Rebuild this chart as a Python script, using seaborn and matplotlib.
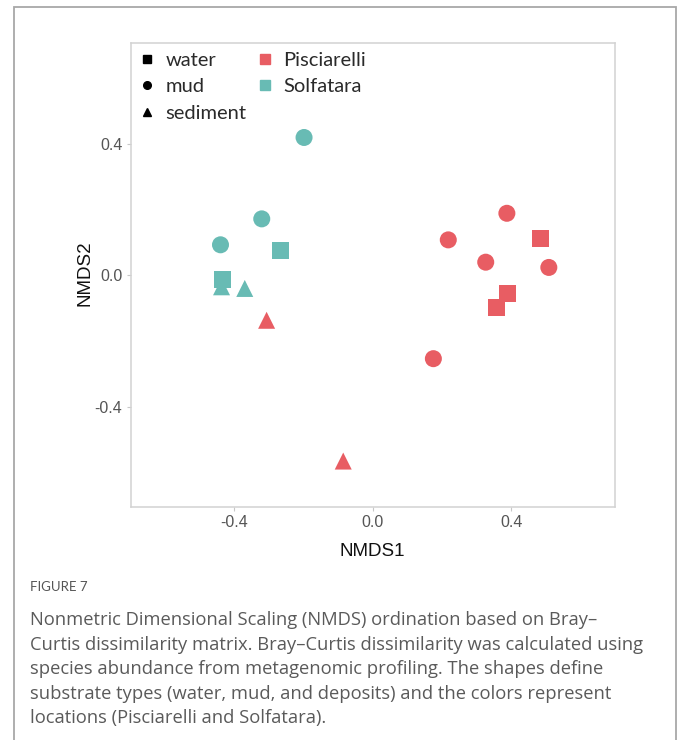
import matplotlib
matplotlib.use("Agg")
import matplotlib.pyplot as plt
import seaborn as sns
import pandas as pd
from matplotlib.lines import Line2D
from matplotlib.patches import Rectangle

# ---- data ----
location = ["Solfatara"] * 7 + ["Pisciarelli"] * 10
substrate = ["mud", "mud", "mud", "water", "sediment", "water", "sediment",
             "sediment", "sediment", "mud", "mud", "mud", "mud", "mud",
             "water", "water", "water"]
nmds1 = [-0.198, -0.320, -0.439, -0.265, -0.436, -0.434, -0.369,
         -0.306, -0.085, 0.387, 0.218, 0.326, 0.508, 0.175,
         0.485, 0.388, 0.358]
nmds2 = [0.420, 0.172, 0.093, 0.076, -0.035, -0.013, -0.040,
         -0.137, -0.566, 0.189, 0.108, 0.040, 0.024, -0.254,
         0.113, -0.055, -0.099]

substrate_levels = ["water", "mud", "sediment"]
location_levels = ["Pisciarelli", "Solfatara"]
tick_vals = [-0.4, 0.0, 0.4]
tick_labels = ["-0.4", "0.0", "0.4"]

caption_title = "FIGURE 7"
caption_lines = [
    "Nonmetric Dimensional Scaling (NMDS) ordination based on Bray\u2013",
    "Curtis dissimilarity matrix. Bray\u2013Curtis dissimilarity was calculated using",
    "species abundance from metagenomic profiling. The shapes define",
    "substrate types (water, mud, and deposits) and the colors represent",
    "locations (Pisciarelli and Solfatara).",
]

df = pd.DataFrame({"NMDS1": nmds1, "NMDS2": nmds2,
                   "substrate": substrate, "location": location})

# ---- styling ----
RED = "#e85d63"
TEAL = "#68bbb4"
palette = {"Pisciarelli": RED, "Solfatara": TEAL}
markers = {"water": "s", "mud": "o", "sediment": "^"}

sns.set_style("white")
plt.rcParams["font.family"] = ["Liberation Sans", "DejaVu Sans"]

W, H = 681, 740
fig = plt.figure(figsize=(W / 100, H / 100), dpi=100)

# outer frame of the figure panel
fig.add_artist(Rectangle((14 / W, -0.05), (676 - 14) / W, 1.05 - 7 / H,
                         transform=fig.transFigure, fill=False,
                         edgecolor="#a8a8a8", linewidth=1.3))

ax = fig.add_axes([130.7 / W, 1 - 507 / H, (614.7 - 130.7) / W, (507 - 43.3) / H])

sns.scatterplot(data=df, x="NMDS1", y="NMDS2", hue="location", style="substrate",
                palette=palette, markers=markers, hue_order=location_levels,
                style_order=substrate_levels, s=150, linewidth=0, alpha=1,
                legend=False, ax=ax)

ax.set_xlim(-0.698, 0.698)
ax.set_ylim(-0.706, 0.707)
ax.set_xticks(tick_vals)
ax.set_xticklabels(tick_labels)
ax.set_yticks(tick_vals)
ax.set_yticklabels(tick_labels)
ax.set_xlabel("")
ax.set_ylabel("")
for sp in ax.spines.values():
    sp.set_visible(True)
    sp.set_color("#d2d2d2")
    sp.set_linewidth(1.1)
ax.tick_params(axis="both", which="major", length=3, width=0.8, color="#c8c8c8",
               labelsize=11.5, labelcolor="#555555", pad=3, direction="out",
               bottom=True, left=True)

fig.text(372.7 / W, 1 - 551 / H, "NMDS1", ha="center", va="center",
         fontsize=13.5, color="#111111")
fig.text(85 / W, 1 - 273 / H, "NMDS2", ha="center", va="center",
         rotation=90, fontsize=13.5, color="#111111")

# legend: shapes (black) then colours
handles = [Line2D([], [], marker=markers[k], color="black", linestyle="",
                  markersize=5.5) for k in substrate_levels]
handles += [Line2D([], [], marker="s", color=palette[k], linestyle="",
                   markersize=6.5) for k in location_levels]
labels = substrate_levels + location_levels
leg = ax.legend(handles, labels, ncol=2, loc="upper left",
                bbox_to_anchor=(140 / W, 1 - 51.5 / H),
                bbox_transform=fig.transFigure, frameon=False,
                borderpad=0, borderaxespad=0, handlelength=0.7,
                handletextpad=0.55, columnspacing=0.6, labelspacing=0.48,
                prop={"family": "Lato", "size": 14.5})
for t in leg.get_texts():
    t.set_color("#2a2a2a")

# caption
fig.text(30 / W, 1 - 587 / H, caption_title, ha="left", va="center",
         fontsize=9.5, color="#555555", family="Lato")
for i, line in enumerate(caption_lines):
    fig.text(30 / W, 1 - (620 + i * 24.6) / H, line, ha="left", va="center",
             fontsize=13.2, color="#5a5a5a", family="Open Sans")

fig.savefig("out.png", dpi=100)
